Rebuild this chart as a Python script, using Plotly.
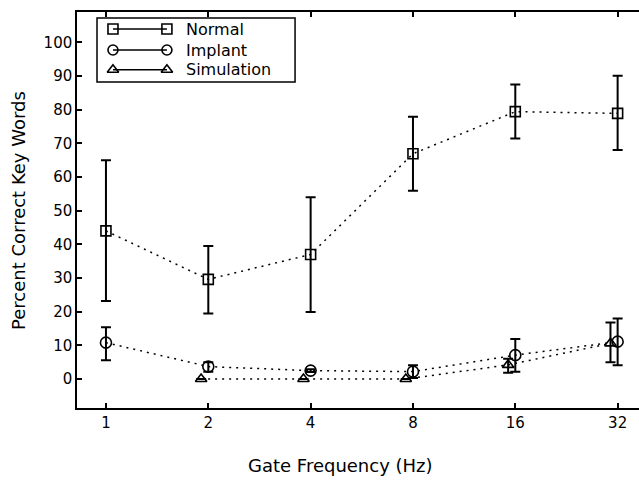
import plotly.graph_objects as go

# ---- data ----
freqs = [1, 2, 4, 8, 16, 32]
tick_labels = ["1", "2", "4", "8", "16", "32"]
y_ticks = [0, 10, 20, 30, 40, 50, 60, 70, 80, 90, 100]

normal = [44.0, 29.6, 37.0, 66.9, 79.4, 78.9]
normal_hi = [65.0, 39.5, 54.0, 77.9, 87.5, 90.1]
normal_lo = [23.2, 19.5, 19.9, 55.9, 71.4, 68.0]

implant = [10.8, 3.7, 2.5, 2.2, 7.1, 11.1]
implant_hi = [15.4, 5.0, 2.9, 4.1, 11.9, 18.0]
implant_lo = [5.6, 2.2, 2.1, 0.3, 2.2, 4.1]

sim_freqs = [2, 4, 8, 16, 32]
simulation = [0.0, 0.0, 0.0, 4.2, 10.6]
simulation_hi = [0.0, 0.0, 0.0, 6.0, 16.8]
simulation_lo = [0.0, 0.0, 0.0, 1.9, 5.0]

series_names = ["Normal", "Implant", "Simulation"]
symbols = ["square-open", "circle-open", "triangle-up-open"]

FONT = "DejaVu Sans, Verdana, sans-serif"
BLACK = "black"

fig = go.Figure()


def add_series(xs, ys, hi, lo, symbol, size):
    fig.add_trace(go.Scatter(
        x=xs, y=ys, mode="lines+markers",
        line=dict(color=BLACK, width=1.5, dash="2px,5px"),
        marker=dict(symbol=symbol, size=size, color=BLACK,
                    line=dict(color=BLACK, width=1.6)),
        error_y=dict(type="data", symmetric=False,
                     array=[h - v for h, v in zip(hi, ys)],
                     arrayminus=[v - l for v, l in zip(ys, lo)],
                     color=BLACK, thickness=2, width=5),
        showlegend=False, cliponaxis=False,
    ))


# simulation is drawn slightly to the left of each frequency
sim_shift = 2 ** (-0.07)
add_series([f * sim_shift for f in sim_freqs], simulation, simulation_hi,
           simulation_lo, symbols[2], 10)
add_series(freqs, implant, implant_hi, implant_lo, symbols[1], 11)
add_series(freqs, normal, normal_hi, normal_lo, symbols[0], 10)

# ---- custom legend (marker - line - marker  Name) ----
leg_x0, leg_x1, leg_text_x = 0.064, 0.160, 0.190
leg_rows = [0.957, 0.904, 0.854]
leg_box = dict(x0=0.0356, x1=0.388, y0=0.823, y1=0.985)

for name, sym, yr in zip(series_names, symbols, leg_rows):
    fig.add_trace(go.Scatter(
        x=[leg_x0, leg_x1], y=[yr, yr], mode="lines+markers",
        xaxis="x2", yaxis="y2",
        line=dict(color=BLACK, width=1.5),
        marker=dict(symbol=sym, size=10, color=BLACK,
                    line=dict(color=BLACK, width=1.6)),
        showlegend=False, hoverinfo="skip",
    ))
    fig.add_annotation(x=leg_text_x, y=yr, xref="paper", yref="paper",
                       text=name, showarrow=False, xanchor="left",
                       yanchor="middle", font=dict(size=16, color=BLACK,
                                                   family=FONT))

fig.add_shape(type="rect", xref="paper", yref="paper",
              line=dict(color=BLACK, width=1.5), fillcolor="white",
              layer="below", **leg_box)

# axis titles
fig.add_annotation(x=0.468, y=-0.144, xref="paper", yref="paper",
                   text="Gate Frequency (Hz)", showarrow=False,
                   xanchor="center", yanchor="middle",
                   font=dict(size=18, color=BLACK, family=FONT))
fig.add_annotation(x=-0.105, y=0.5, xref="paper", yref="paper",
                   text="Percent Correct Key Words", showarrow=False,
                   textangle=-90, xanchor="center", yanchor="middle",
                   font=dict(size=18, color=BLACK, family=FONT))

fig.update_layout(
    width=639, height=483,
    margin=dict(l=77, r=0, t=12, b=75),
    paper_bgcolor="white", plot_bgcolor="white",
    font=dict(family=FONT, color=BLACK, size=15),
    xaxis=dict(type="log", range=[-0.0852, 1.568],
               tickvals=freqs, ticktext=tick_labels,
               ticks="inside", ticklen=5, tickwidth=1.5, tickcolor=BLACK,
               showline=True, linecolor=BLACK, linewidth=1.5, mirror="ticks",
               showgrid=False, zeroline=False,
               tickfont=dict(size=15, family=FONT)),
    yaxis=dict(range=[-8.6, 109], tickvals=y_ticks,
               ticks="inside", ticklen=5, tickwidth=1.5, tickcolor=BLACK,
               showline=True, linecolor=BLACK, linewidth=1.5, mirror=False,
               showgrid=False, zeroline=False,
               tickfont=dict(size=15, family=FONT)),
    xaxis2=dict(overlaying="x", range=[0, 1], visible=False),
    yaxis2=dict(overlaying="y", range=[0, 1], visible=False),
)

fig.write_html(
    "out.html",
    config={"displayModeBar": False},
    post_script="document.body.style.margin='0';"
                "document.body.style.overflow='hidden';",
)
